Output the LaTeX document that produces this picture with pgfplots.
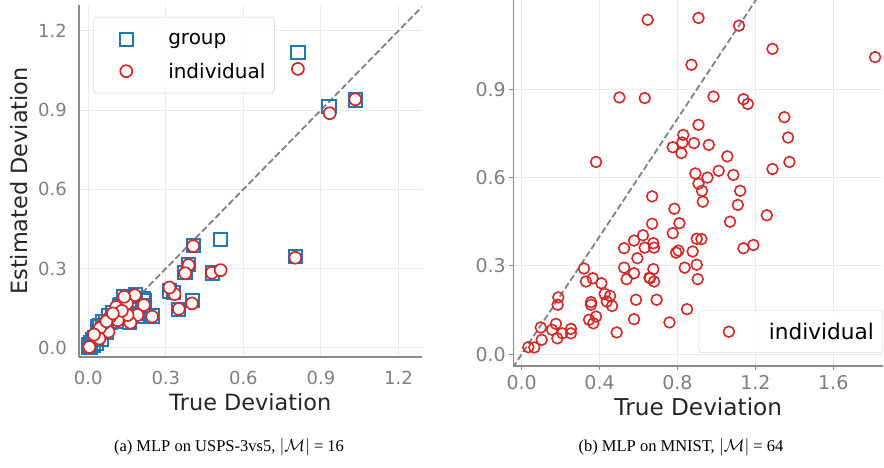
\documentclass[border=0pt]{standalone}
\usepackage{pgfplots}
\pgfplotsset{compat=1.18}
\usepackage{fontspec}
\setmainfont{DejaVu Sans}
\newfontfamily\capfont{Liberation Serif}
\definecolor{tblue}{HTML}{1F77B4}
\definecolor{tred}{HTML}{D62728}
\definecolor{spine}{HTML}{8A8A8A}
\definecolor{tickc}{HTML}{7F7F7F}
\definecolor{gridc}{HTML}{EBEBEB}
\definecolor{labc}{HTML}{262626}

\pgfplotsset{
  mystyle/.style={
    scale only axis,
    axis x line*=bottom, axis y line*=left,
    axis line style={spine, line width=1.6pt, -},
    grid=major, grid style={gridc, line width=0.9pt},
    /pgf/number format/assume math mode=true,
    xticklabel style={/pgf/number format/fixed, /pgf/number format/fixed zerofill, /pgf/number format/precision=1},
    yticklabel style={/pgf/number format/fixed, /pgf/number format/fixed zerofill, /pgf/number format/precision=1},
    tick label style={text=tickc},
  }
}

\begin{document}
\begin{tikzpicture}
\path[use as bounding box] (0pt,0pt) rectangle (884pt,-467pt);

% ---------------- left plot ----------------
\begin{axis}[mystyle,
  at={(79pt,-357pt)}, anchor=south west,
  width=342.7pt, height=352pt,
  xmin=-0.036, xmax=1.29, ymin=-0.035, ymax=1.298,
  xtick={0,0.3,0.6,0.9,1.2}, ytick={0,0.3,0.6,0.9,1.2},
  major tick length=0pt,
  tick label style={font=\fontsize{18}{20}\selectfont},
  xticklabel style={inner sep=0pt, anchor=north, yshift=-13.5pt},
  yticklabel style={inner sep=0pt, anchor=east, xshift=-12pt},
  xlabel={True Deviation}, ylabel={Estimated Deviation},
  label style={font=\fontsize{22.4}{26}\selectfont, text=labc},
  xlabel style={at={(axis description cs:0.5,-0.128)}, anchor=center},
  ylabel style={at={(axis description cs:-0.174,0.5)}, anchor=center},
  legend style={at={(axis description cs:0.041,0.966)}, anchor=north west,
    draw=black!20, rounded corners=3pt, fill=white, fill opacity=0.8, text opacity=1,
    inner xsep=9pt, inner ysep=13pt, row sep=14pt, column sep=0pt,
    font=\fontsize{20}{24}\selectfont, nodes={inner sep=0pt, text=black}},
  legend cell align=left,
  legend image code/.code={\path[draw=none, fill=none] (0pt,-9pt) rectangle (66pt,9pt); \draw[#1] plot coordinates {(24pt,0pt)};},
]
\addplot[forget plot, color=gray, line width=1.8pt, dash pattern=on 6.5pt off 3pt] coordinates {(-0.1,-0.1) (2,2)};
\addplot[only marks, mark=square, mark size=6.6pt, mark options={draw=tblue, line width=2pt, fill=none}] coordinates {
(0.811,1.117) (0.931,0.915) (1.033,0.938) (0.512,0.410) (0.801,0.347)
(0.406,0.388) (0.388,0.316) (0.374,0.285) (0.479,0.283) (0.404,0.178)
(0.348,0.145) (0.330,0.208) (0.315,0.215) (0.247,0.120) (0.218,0.178)
(0.182,0.200) (0.137,0.195) (0.160,0.175) (0.150,0.130) (0.190,0.120)
(0.120,0.160) (0.110,0.100) (0.095,0.135) (0.080,0.120) (0.065,0.100)
(0.060,0.070) (0.045,0.085) (0.040,0.055) (0.025,0.040) (0.015,0.030)
(0.008,0.020) (0.005,0.008) (0.020,0.010) (0.010,0.000) (0.030,0.015)
(0.000,0.000) (0.003,0.012) (0.035,0.080) (0.055,0.100) (0.125,0.165)
(0.160,0.195) (0.215,0.160) (0.200,0.130) (0.160,0.095) (0.070,0.060)
(0.050,0.030) (0.085,0.095) (0.215,0.185)
};
\addlegendentry{group}
\addplot[only marks, mark=*, mark size=6pt, mark options={draw=tred, line width=1.7pt, fill=white}] coordinates {
(0.811,1.056) (0.934,0.888) (1.033,0.941) (0.801,0.341) (0.406,0.385)
(0.388,0.313) (0.375,0.282) (0.478,0.284) (0.512,0.294) (0.401,0.168)
(0.350,0.147) (0.334,0.203) (0.314,0.228) (0.247,0.118) (0.215,0.162)
(0.190,0.124) (0.180,0.199) (0.163,0.095) (0.150,0.168) (0.139,0.193)
(0.152,0.124) (0.114,0.104) (0.108,0.155) (0.084,0.117) (0.078,0.061)
(0.060,0.092) (0.045,0.075) (0.043,0.035) (0.022,0.050) (0.004,0.003)
(0.070,0.100) (0.130,0.140) (0.095,0.130)
};
\addlegendentry{individual}
\end{axis}

% ---------------- right plot ----------------
\begin{axis}[mystyle,
  at={(513.3pt,-365.7pt)}, anchor=south west,
  width=370pt, height=365.7pt,
  xmin=-0.043, xmax=1.857, ymin=-0.039, ymax=1.203,
  xtick={0,0.4,0.8,1.2,1.6}, ytick={0,0.3,0.6,0.9},
  tick align=outside, major tick length=4pt,
  tick style={spine, line width=1.2pt},
  tick label style={font=\fontsize{19}{21}\selectfont},
  xticklabel style={inner sep=0pt, anchor=north, yshift=-5pt},
  yticklabel style={inner sep=0pt, anchor=east, xshift=-3.3pt},
  xlabel={True Deviation},
  label style={font=\fontsize{23.2}{27}\selectfont, text=labc},
  xlabel style={at={(axis description cs:0.5,-0.113)}, anchor=center},
  legend style={at={(axis description cs:0.999,0.035)}, anchor=south east,
    draw=black!20, rounded corners=3pt, fill=white, fill opacity=0.8, text opacity=1,
    inner xsep=9pt, inner ysep=12pt, column sep=0pt,
    font=\fontsize{21.6}{26}\selectfont, nodes={inner sep=0pt, text=black}},
  legend cell align=left,
  legend image code/.code={\path[draw=none, fill=none] (0pt,-9pt) rectangle (61pt,9pt); \draw[#1] plot coordinates {(21pt,0pt)};},
]
\addplot[forget plot, color=gray, line width=1.8pt, dash pattern=on 6.5pt off 3pt] coordinates {(-0.1,-0.1) (2,2)};
\addplot[only marks, mark=o, mark size=5.4pt, mark options={draw=tred, line width=1.6pt}] coordinates {
(0.647,1.136) (0.908,1.142) (1.116,1.116) (1.288,1.037) (1.815,1.009)
(0.872,0.983) (0.502,0.872) (0.632,0.870) (0.985,0.875) (1.139,0.866)
(1.161,0.850) (1.349,0.805) (0.908,0.779) (1.368,0.736) (0.830,0.745)
(0.776,0.703) (0.825,0.719) (0.885,0.717) (0.961,0.711) (0.820,0.683)
(0.382,0.653) (1.056,0.672) (1.375,0.653) (0.892,0.614) (1.012,0.623)
(1.087,0.609) (0.954,0.600) (1.288,0.629) (0.908,0.579) (0.926,0.555)
(1.122,0.555) (0.930,0.518) (1.110,0.507) (0.670,0.536) (0.784,0.494)
(1.259,0.472) (0.670,0.443) (0.810,0.445) (1.070,0.450) (0.776,0.411)
(0.623,0.404) (0.577,0.386) (0.676,0.377) (0.632,0.362) (0.526,0.360)
(0.680,0.362) (0.899,0.392) (0.923,0.391) (1.139,0.360) (1.190,0.371)
(0.793,0.345) (0.805,0.352) (0.878,0.349) (0.594,0.326) (0.899,0.304)
(0.837,0.294) (0.526,0.294) (0.676,0.289) (0.320,0.291) (0.577,0.275)
(0.659,0.258) (0.539,0.255) (0.680,0.247) (0.904,0.255) (0.330,0.247)
(0.365,0.258) (0.409,0.241) (0.426,0.205) (0.454,0.198) (0.437,0.179)
(0.464,0.164) (0.356,0.177) (0.356,0.168) (0.587,0.185) (0.693,0.185)
(0.849,0.153) (0.188,0.193) (0.185,0.168) (0.346,0.117) (0.368,0.105)
(0.382,0.128) (0.577,0.119) (0.759,0.108) (0.488,0.074) (0.098,0.091)
(0.176,0.103) (0.156,0.083) (0.183,0.054) (0.209,0.071) (0.253,0.086)
(0.253,0.071) (0.103,0.049) (0.034,0.024) (0.065,0.023) (0.656,0.260)
};
\addlegendentry{individual}
\end{axis}

\node[font=\capfont\fontsize{16.5}{19}\selectfont, anchor=center] at (229pt,-447pt) {(a) MLP on USPS-3vs5, $|\mathcal{M}|$ = 16};
\node[font=\capfont\fontsize{16.5}{19}\selectfont, anchor=center] at (681pt,-447pt) {(b) MLP on MNIST, $|\mathcal{M}|$ = 64};
\end{tikzpicture}
\end{document}
